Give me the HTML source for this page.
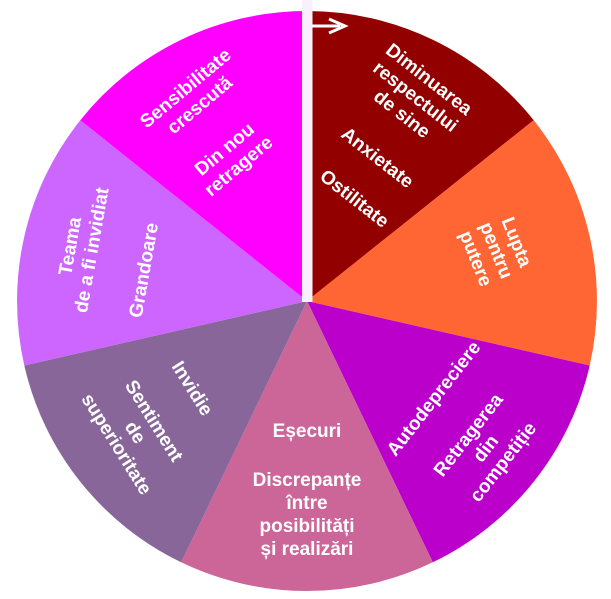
<!DOCTYPE html>
<html><head><meta charset="utf-8"><style>
html,body{margin:0;padding:0;background:#fff;}
svg{display:block;}
text{font-family:"Liberation Sans",Arial,sans-serif;font-weight:bold;fill:#fff;font-size:19px;text-anchor:middle;}
</style></head><body>
<svg width="611" height="599" viewBox="0 0 611 599" xmlns="http://www.w3.org/2000/svg">
<path d="M307,301 L307,11 A290,290 0 0 1 533.7,120.2 Z" fill="#930000"/>
<path d="M307,301 L533.7,120.2 A290,290 0 0 1 589.7,365.5 Z" fill="#ff6633"/>
<path d="M307,301 L589.7,365.5 A290,290 0 0 1 432.8,562.3 Z" fill="#bb00cc"/>
<path d="M307,301 L432.8,562.3 A290,290 0 0 1 181.2,562.3 Z" fill="#cc6699"/>
<path d="M307,301 L181.2,562.3 A290,290 0 0 1 24.3,365.5 Z" fill="#886699"/>
<path d="M307,301 L24.3,365.5 A290,290 0 0 1 80.3,120.2 Z" fill="#cc66ff"/>
<path d="M307,301 L80.3,120.2 A290,290 0 0 1 307,11 Z" fill="#ff00ff"/>
<rect x="302" y="0" width="10.5" height="302" fill="#f8f0fc"/>
<line x1="312" y1="26" x2="340" y2="26" stroke="#fff" stroke-width="3"/>
<path d="M329,19 L345,26 L329,33" fill="none" stroke="#fff" stroke-width="3"/>

<g transform="translate(416,96) rotate(38)">
<text y="-15">Diminuarea</text><text y="7">respectului</text><text y="29">de sine</text></g>
<g transform="translate(378,157) rotate(38)"><text y="7">Anxietate</text></g>
<g transform="translate(355,198) rotate(38)"><text y="7">Ostilitate</text></g>

<g transform="translate(497,250) rotate(68)">
<text y="-15">Lupta</text><text y="7">pentru</text><text y="29">putere</text></g>

<g transform="translate(433,398) rotate(-52)"><text y="7">Autodepreciere</text></g>
<g transform="translate(485,448) rotate(-52)">
<text y="-15">Retragerea</text><text y="7">din</text><text y="29">competiție</text></g>

<text x="307" y="437">Eșecuri</text>
<text x="307" y="486">Discrepanțe</text>
<text x="307" y="509">între</text>
<text x="307" y="532">posibilități</text>
<text x="307" y="555">și realizări</text>

<g transform="translate(193,388) rotate(58)"><text y="7">Invidie</text></g>
<g transform="translate(136,432) rotate(58)">
<text y="-15">Sentiment</text><text y="7">de</text><text y="29">superioritate</text></g>

<g transform="translate(80,248) rotate(-80)">
<text y="-4">Teama</text><text y="18">de a fi invidiat</text></g>
<g transform="translate(143,270) rotate(-80)"><text y="7">Grandoare</text></g>

<g transform="translate(192,96) rotate(-40)">
<text y="-4">Sensibilitate</text><text y="18">crescută</text></g>
<g transform="translate(231,157) rotate(-40)">
<text y="-4">Din nou</text><text y="18">retragere</text></g>
</svg>
</body></html>
